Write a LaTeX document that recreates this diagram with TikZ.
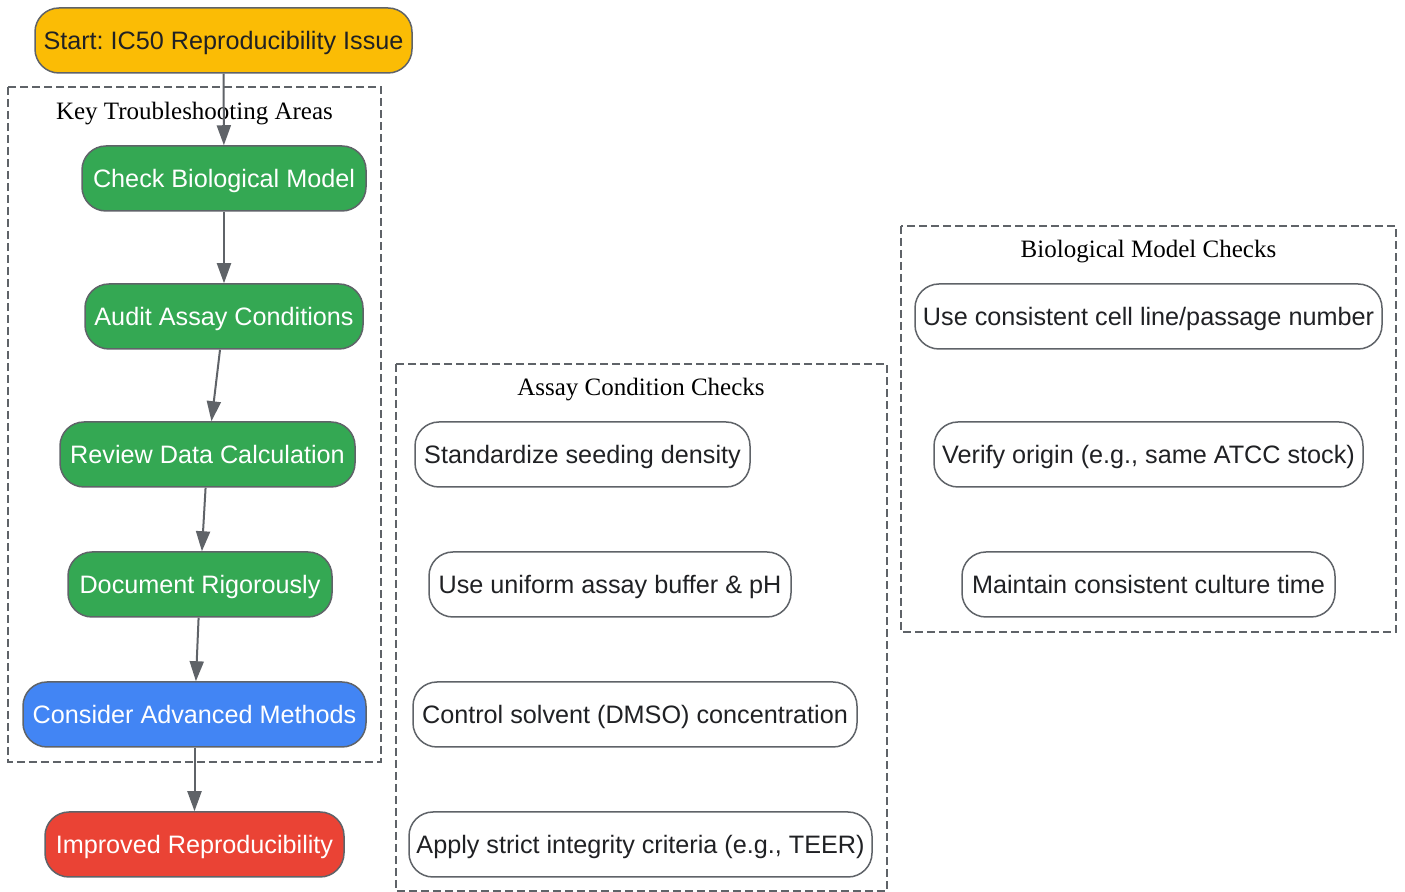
\documentclass[tikz,border=0pt]{standalone}
\usepackage{fontspec}
\setmainfont{Liberation Serif}
\setsansfont{Liberation Sans}
\usetikzlibrary{arrows.meta}
\frenchspacing

\definecolor{startcol}{HTML}{FBBC05}
\definecolor{stepcol}{HTML}{34A853}
\definecolor{advcol}{HTML}{4285F4}
\definecolor{endcol}{HTML}{EA4335}
\definecolor{edgecol}{HTML}{5F6368}
\definecolor{inkcol}{HTML}{202124}

\tikzset{
    flowbox/.style = {draw = edgecol, line width = 0.75pt, rounded corners = 12pt,
        minimum height = 32.5pt, inner xsep = 3pt, text height = 10.5pt, text depth = 1.1pt,
        font = \sffamily\fontsize{12.6}{15}\selectfont},
    greenbox/.style = {flowbox, fill = stepcol, text = white},
    checkbox/.style = {flowbox, fill = white, text = inkcol},
    clusterbox/.style = {draw = edgecol, line width = 0.7pt, dash pattern = on 4pt off 2pt},
    clustertitle/.style = {font = \fontsize{12.5}{15}\selectfont, text = black},
    flowarrow/.style = {draw = edgecol, line width = 1pt, -{Triangle[length = 10pt, width = 7pt]}}
}

\begin{document}
\begin{tikzpicture}[x = 0.5pt, y = -0.5pt]
        \useasboundingbox (0,0) rectangle (1405,892);

        % dashed groups
        \draw[clusterbox] (8,87) rectangle (381,762);
        \draw[clusterbox] (396,364) rectangle (887,891);
        \draw[clusterbox] (901,226) rectangle (1396,632);
        \node[clustertitle] (keytitle) at (194.5,114) {Key Troubleshooting Areas};
        \node[clustertitle] (assaytitle) at (641,390) {Assay Condition Checks};
        \node[clustertitle] (biotitle) at (1148.5,252) {Biological Model Checks};

        % main flow
        \node[flowbox, fill = startcol, text = inkcol, minimum width = 188.5pt] (start) at (223.5,40.5) {Start: IC50 Reproducibility Issue};
        \node[greenbox, minimum width = 142pt] (biomodel) at (224,178.5) {Check Biological Model};
        \node[greenbox, minimum width = 139pt] (audit) at (224,316.5) {Audit Assay Conditions};
        \node[greenbox, minimum width = 147.5pt] (review) at (207.5,454.5) {Review Data Calculation};
        \node[greenbox, minimum width = 132pt] (document) at (200,584.5) {Document Rigorously};
        \node[flowbox, fill = advcol, text = white, minimum width = 171.5pt] (advanced) at (194.5,714.5) {Consider Advanced Methods};
        \node[flowbox, fill = endcol, text = white, minimum width = 149.5pt] (improved) at (194.5,844.5) {Improved Reproducibility};

        % assay checks
        \node[checkbox, minimum width = 167.5pt] (seeding) at (582.5,454.5) {Standardize seeding density};
        \node[checkbox, minimum width = 181pt] (buffer) at (610,584.5) {Use uniform assay buffer \& pH};
        \node[checkbox, minimum width = 222pt] (solvent) at (635,714.5) {Control solvent (DMSO) concentration};
        \node[checkbox, minimum width = 231.5pt] (integrity) at (640.5,844.5) {Apply strict integrity criteria (e.g., TEER)};

        % biological checks
        \node[checkbox, minimum width = 233.5pt] (passage) at (1148.5,316.5) {Use consistent cell line/passage number};
        \node[checkbox, minimum width = 214.5pt] (origin) at (1148.5,454.5) {Verify origin (e.g., same ATCC stock)};
        \node[checkbox, minimum width = 186.5pt] (culture) at (1148.5,584.5) {Maintain consistent culture time};

        \draw[flowarrow] (start) -- (biomodel);
        \draw[flowarrow] (biomodel) -- (audit);
        \draw[flowarrow] (audit) -- (review);
        \draw[flowarrow] (review) -- (document);
        \draw[flowarrow] (document) -- (advanced);
        \draw[flowarrow] (advanced) -- (improved);
    \end{tikzpicture}
\end{document}
